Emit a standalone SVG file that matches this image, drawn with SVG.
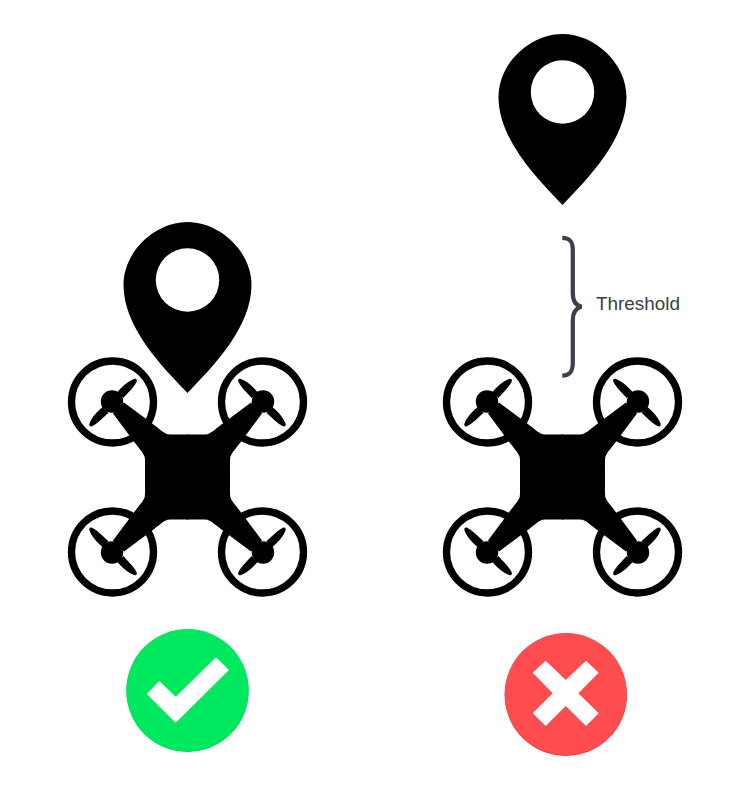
<svg xmlns="http://www.w3.org/2000/svg" xmlns:xlink="http://www.w3.org/1999/xlink" width="750" height="801" viewBox="0 0 750 801">
<style>
.ring{fill:none;stroke:#000;stroke-width:7.300}
.ink{fill:#000}
.hole{fill:#fff}
.mark{fill:#fff}
.brace{fill:none;stroke:#3a414a;stroke-width:4.200}
.label{font-family:"Liberation Sans",Arial,sans-serif;font-size:18.900px;fill:#3a414a}
</style>
<defs>
<g id="quarter">
<circle class="ring" cx="-75" cy="-75" r="41"/>
<circle class="ink" cx="-75.500" cy="-75.500" r="11.200"/>
<path class="ink" d="M1,1 L1,-42.500 L-8,-42.500 C-13,-42.500 -16,-42.300 -20,-42.800 C-24,-44 -30,-49.500 -34,-52.500 L-63.500,-74.500 L-74.500,-63.500 L-52.500,-34 C-49.500,-30 -44,-24 -42.800,-20 C-42.300,-16 -42.500,-13 -42.500,-8 L-42.500,1 Z"/>
<path class="ink" d="M-70,-85 C-65,-91 -59,-96 -53.500,-98 C-51,-98.800 -50,-97 -51,-95 C-54,-89 -60,-84 -64,-79 Z"/>
<path class="ink" d="M-85,-70 C-91,-65 -96,-59 -98,-53.500 C-98.800,-51 -97,-50 -95,-51 C-89,-54 -84,-60 -79,-64 Z"/>
</g>
<g id="drone">
<use xlink:href="#quarter" href="#quarter"/>
<use xlink:href="#quarter" href="#quarter" transform="scale(-1,1)"/>
<use xlink:href="#quarter" href="#quarter" transform="scale(1,-1)"/>
<use xlink:href="#quarter" href="#quarter" transform="scale(-1,-1)"/>
</g>
<g id="pin">
<path class="ink" d="M0,-58 C32,-58 64,-29 64,5 C64,47 26,86 0,113 C-26,86 -64,47 -64,5 C-64,-29 -32,-58 0,-58 Z"/>
<circle class="hole" cx="0" cy="0" r="31.700"/>
</g>
</defs>
<rect width="750" height="801" fill="#fff"/>
<g id="pin-left"><use xlink:href="#pin" href="#pin" transform="translate(187.500,280)"/></g>
<g id="drone-left"><use xlink:href="#drone" href="#drone" transform="translate(187.500,477)"/></g>
<g id="ok">
<circle cx="187.500" cy="690.800" r="61.200" fill="#00d153"/>
<circle cx="187.500" cy="690" r="61" fill="#00e85e"/>
<path class="mark" d="M216,657.300 L229,670 L175.700,722.700 L146.700,694 L159.300,681 L175.700,696.700 Z"/>
</g>
<g id="pin-right"><use xlink:href="#pin" href="#pin" transform="translate(562.500,92)"/></g>
<g id="threshold">
<path class="brace" d="M562.300,237.900 C569.500,238 572.800,241 572.800,250 L572.800,293 C572.800,301 576,305.500 581.500,306.700 C576,308 572.800,312 572.800,320 L572.800,363 C572.800,372 569.500,375.500 562.300,375.700"/>
<text class="label" x="596" y="310">Threshold</text>
</g>
<g id="drone-right"><use xlink:href="#drone" href="#drone" transform="translate(562.500,477)"/></g>
<g id="fail">
<circle cx="565.800" cy="694.800" r="61.200" fill="#e23c40"/>
<circle cx="565.800" cy="694" r="61" fill="#ff4d4f"/>
<path class="mark" d="M545.700,660.700 L565.700,680 L586,660.700 L598.700,672.700 L578.300,693.300 L598.700,713.300 L586,726 L565.700,706 L545.700,726 L532.700,713.300 L552.700,693.300 L532.700,672.700 Z"/>
</g>
</svg>
